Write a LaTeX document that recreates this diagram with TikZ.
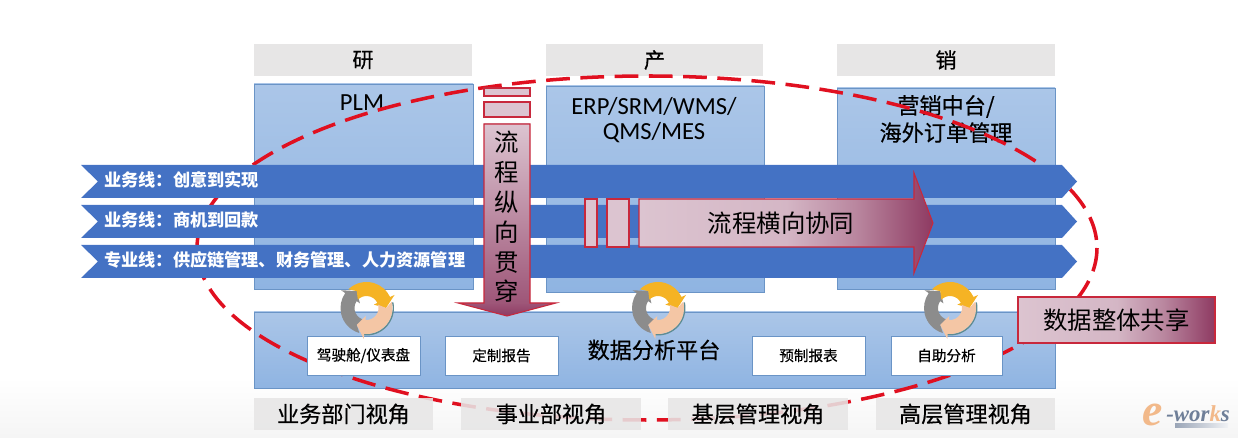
\documentclass[tikz,border=0pt]{standalone}
\usepackage{fontspec}
\usepackage{xcolor}
\usepackage{tikz}
\setmainfont{Carlito}
\newfontfamily\cjk{Noto Sans CJK SC}
\newfontfamily\cjkmid[FakeBold=0.5]{Noto Sans CJK SC}
\newfontfamily\logofont{Liberation Serif}

\definecolor{lineblue}{HTML}{4472C4}
\definecolor{boxgrey}{HTML}{E7E6E6}
\definecolor{boxedge}{HTML}{6A94C6}
\definecolor{boxtop}{HTML}{ABC6E8}
\definecolor{boxbottom}{HTML}{8FB4E2}
\definecolor{flowred}{HTML}{C8283C}
\definecolor{flowlight}{HTML}{DCC4D0}
\definecolor{flowdark}{HTML}{8E3A62}
\definecolor{ringred}{HTML}{E01020}
\definecolor{cycleorange}{HTML}{F5B324}
\definecolor{cyclepeach}{HTML}{F4C6A5}
\definecolor{cyclegrey}{HTML}{8C8C8C}
\definecolor{cycleedge}{HTML}{5E8C93}
\definecolor{logoorange}{HTML}{F2B98A}
\definecolor{logoblue}{HTML}{6F7F98}

\pgfdeclarehorizontalshading{flowshade}{100bp}{color(0bp)=(flowlight); color(25bp)=(flowlight); color(50bp)=(flowlight!90!flowdark); color(62bp)=(flowlight!55!flowdark); color(75bp)=(flowdark); color(100bp)=(flowdark)}

\newcommand{\cyclepart}[3]{
\fill[#3] (#1-11:26) arc[start angle=#1-11, end angle=#2, radius=26] -- (#2:31) -- (#2-25:19.5) -- (#2:8) -- (#2:12) arc[start angle=#2, end angle=#1-9, radius=12] -- (#1-25:19.5) -- cycle;
}
\def\px{0.02cm}

\tikzset{
  headbox/.style={fill=boxgrey, inner sep=0pt, minimum height=32*\px, font=\cjkmid\fontsize{12}{14}\selectfont},
  viewbox/.style={fill=boxgrey, fill opacity=.88, text opacity=1, inner sep=0pt, minimum height=32*\px, font=\cjkmid\fontsize{12.6}{14}\selectfont},
  sysbox/.style={draw=boxedge, line width=.5pt, top color=boxtop, bottom color=boxbottom, inner sep=0pt},
  reportbox/.style={draw=boxedge, line width=.5pt, fill=white, inner sep=0pt, minimum height=39*\px, font=\cjkmid\fontsize{8.3}{10}\selectfont},
  bizline/.style={fill=lineblue},
  bizlabel/.style={anchor=west, inner sep=0pt, text=white, font=\cjk\bfseries\fontsize{9.78}{11}\selectfont},
  flowstrip/.style={draw=flowred, line width=.6pt, fill=flowlight},
  flowarrow/.style={draw=flowred, line width=.6pt, shading=flowshade},
  cycleicon/.pic={
    \begin{scope}[yscale=-1]
    \draw[cycleedge, line width=.8pt] (12:26.8) arc[start angle=12, end angle=-100, radius=26.8];
    \cyclepart{265}{145}{cyclegrey}
    \cyclepart{145}{25}{cycleorange}
    \cyclepart{25}{-95}{cyclepeach}
    \end{scope}
  }
}

\begin{document}
\begin{tikzpicture}[x=0.02cm, y=-0.02cm]
\useasboundingbox (0,0) rectangle (1238,438);
\shade[top color=white, bottom color=black!4] (0,378) rectangle (1238,438);

% heads
\node[headbox, minimum width=218*\px] (research) at (363,60) {研};
\node[headbox, minimum width=217*\px] (produce) at (654.5,60) {产};
\node[headbox, minimum width=218*\px] (sales) at (946,60) {销};

% systems
\node[sysbox, minimum width=219*\px, minimum height=205*\px] (plmbox) at (363.5,186.5) {};
\node[sysbox, minimum width=218*\px, minimum height=206*\px] (erpbox) at (655,189) {};
\node[sysbox, minimum width=218*\px, minimum height=201*\px] (salesbox) at (946,188.5) {};
\node[sysbox, minimum width=801*\px, minimum height=76*\px] (platform) at (654.5,350) {};
\node[font=\fontsize{14}{16}\selectfont] (plm) at (362,103) {PLM};
\node[align=center, font=\fontsize{14}{14.5}\selectfont] (erp) at (654,120) {ERP/SRM/WMS/\\QMS/MES};
\node[align=center, font=\cjkmid\fontsize{12.6}{15.5}\selectfont] (mkt) at (946,119) {营销中台/\\海外订单管理};
\node[font=\cjkmid\fontsize{12.6}{14}\selectfont] (platformtext) at (654,350) {数据分析平台};

% dashed ring
\draw[ringred, line width=2pt, dash pattern=on 13.5pt off 6pt] (647,248) ellipse [x radius=450, y radius=172];

% reports
\node[reportbox, minimum width=113*\px] (cockpit) at (363.5,355.5) {驾驶舱/仪表盘};
\node[reportbox, minimum width=113*\px] (custom) at (501.5,355.5) {定制报告};
\node[reportbox, minimum width=113*\px] (preset) at (808.5,355.5) {预制报表};
\node[reportbox, minimum width=111*\px] (self) at (946.5,355.5) {自助分析};

% views
\node[viewbox, minimum width=179*\px] (viewdept) at (343.5,414) {业务部门视角};
\node[viewbox, minimum width=180*\px] (viewunit) at (551,414) {事业部视角};
\node[viewbox, minimum width=180*\px] (viewbase) at (758,414) {基层管理视角};
\node[viewbox, minimum width=179*\px] (viewtop) at (965.5,414) {高层管理视角};

% business lines
\fill[bizline] (81,165) -- (1062,165) -- (1077,181.5) -- (1062,198) -- (81,198) -- (98,181.5) -- cycle;
\fill[bizline] (81,205) -- (1062,205) -- (1077,221.5) -- (1062,238) -- (81,238) -- (98,221.5) -- cycle;
\fill[bizline] (81,245) -- (1062,245) -- (1077,261.5) -- (1062,278) -- (81,278) -- (98,261.5) -- cycle;
\node[bizlabel] (line1) at (104,180) {业务线\symbol{"FF1A}创意到实现};
\node[bizlabel] (line2) at (104,220) {业务线\symbol{"FF1A}商机到回款};
\node[bizlabel] (line3) at (104,260) {专业线\symbol{"FF1A}供应链管理、财务管理、人力资源管理};

% vertical flow
\draw[flowstrip] (484,88) rectangle (530,96);
\draw[flowstrip] (484,102) rectangle (530,117);
\shade[top color=flowlight, middle color=flowlight!88!flowdark, bottom color=flowdark!80!flowlight] (484,124) rectangle (530,303.5);
\shade[top color=flowdark!80!flowlight, bottom color=flowdark] (458,303) -- (556,303) -- (507,316) -- cycle;
\draw[flowred, line width=.6pt] (484,124) -- (530,124) -- (530,303) -- (556,303) -- (507,316) -- (458,303) -- (484,303) -- cycle;
\node[align=center, font=\cjk\fontsize{13.9}{17}\selectfont] (vflow) at (507,217) {流\\程\\纵\\向\\贯\\穿};

% horizontal flow
\draw[flowstrip] (585,199) rectangle (597,247);
\draw[flowstrip] (607,199) rectangle (629,247);
\draw[flowarrow] (639,199) -- (914,199) -- (914,173) -- (933,223) -- (914,273) -- (914,247) -- (639,247) -- cycle;
\node[font=\cjk\fontsize{13.9}{16}\selectfont] (hflow) at (781,223) {流程横向协同};

% shared data
\node[flowarrow, inner sep=0pt, minimum width=197*\px, minimum height=46*\px, font=\cjk\fontsize{13.9}{16}\selectfont] (shared) at (1116.5,320) {数据整体共享};

% cycles
\pic at (366.5,308) {cycleicon};
\pic at (658,308) {cycleicon};
\pic at (950,308) {cycleicon};

% logo
\shade[left color=logoblue!70, right color=logoblue!10] (1175,424) rectangle (1228,428);
\node[anchor=base west, inner sep=0pt, text=logoorange, font=\logofont\bfseries\itshape\fontsize{26}{26}\selectfont] (logoe) at (1142,426) {e};
\node[anchor=base west, inner sep=0pt, text=logoblue, font=\logofont\bfseries\itshape\fontsize{13}{13}\selectfont] (logotext) at (1166,422) {-wor\textcolor{logoorange}{k}s};
\end{tikzpicture}
\end{document}
